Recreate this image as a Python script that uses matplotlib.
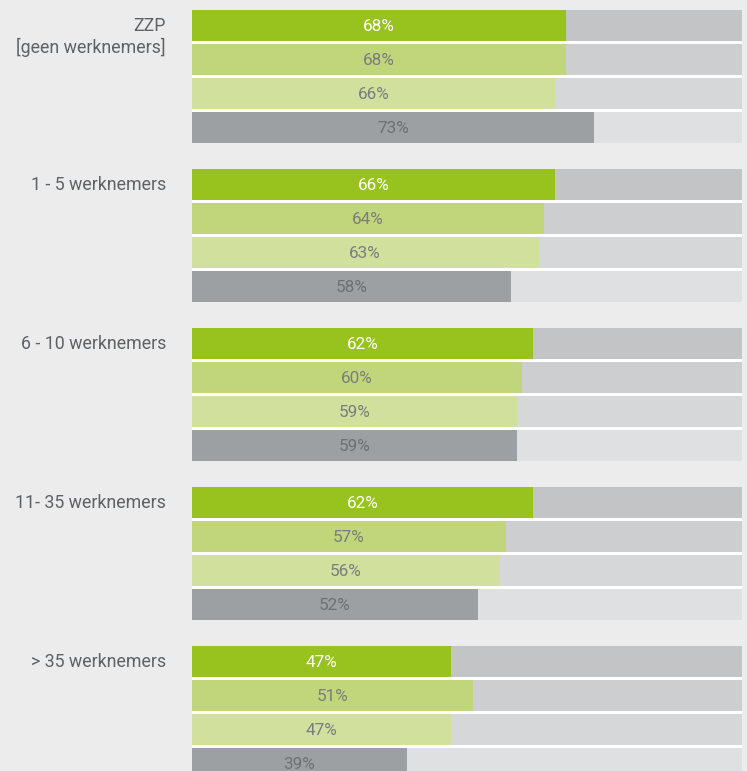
import matplotlib
matplotlib.use("Agg")
import matplotlib.pyplot as plt
from matplotlib.patches import Rectangle

categories = ["ZZP\n[geen werknemers]", "1 - 5 werknemers", "6 - 10 werknemers",
              "11- 35 werknemers", "> 35 werknemers"]
series1 = [68, 66, 62, 62, 47]
series2 = [68, 64, 60, 57, 51]
series3 = [66, 63, 59, 56, 47]
series4 = [73, 58, 59, 52, 39]

bar_colors = ["#98C21E", "#C1D67A", "#D1E09C", "#9DA0A3"]
track_colors = ["#C3C4C6", "#CDCED0", "#D6D7D9", "#DFE0E1"]
text_colors = ["#FFFFFF", "#7A7D80", "#7A7D80", "#6E7174"]

W, H = 747, 771
fig = plt.figure(figsize=(W / 100, H / 100), dpi=100)
fig.patch.set_facecolor("#ECECEC")
ax = fig.add_axes([192 / W, 0, 550 / W, 1])
ax.set_facecolor("none")
ax.set_xlim(0, 100)
ax.set_ylim(H, 0)
ax.axis("off")

font = "Roboto"
fw = "normal"
series = [series1, series2, series3, series4]
top0, group_pitch, row_pitch, row_h = 10, 159, 34, 31.3

for g, cat in enumerate(categories):
    gtop = top0 + g * group_pitch
    # white backing for separator lines
    ax.add_patch(Rectangle((0, gtop), 100, 3 * row_pitch + row_h,
                           facecolor="white", edgecolor="none", zorder=0))
    for i, s in enumerate(series):
        y = gtop + i * row_pitch
        ax.add_patch(Rectangle((0, y), 100, row_h, facecolor=track_colors[i],
                               edgecolor="none", zorder=1))
        ax.barh(y + row_h / 2, s[g], height=row_h, color=bar_colors[i],
                edgecolor="none", zorder=2)
        ax.text(s[g] / 2, y + row_h / 2 + 1, f"{s[g]}%", ha="center", va="center",
                color=text_colors[i], fontsize=12.3, family=font, fontweight=fw,
                zorder=3)
    lines = cat.split("\n")
    for k, line in enumerate(lines):
        ax.text(-26 / 5.5, gtop + row_h / 2 + k * 22, line, ha="right", va="center",
                color="#5F6265", fontsize=12.8, family=font, fontweight=fw,
                clip_on=False)

fig.savefig("out.png", dpi=100, facecolor=fig.get_facecolor())
